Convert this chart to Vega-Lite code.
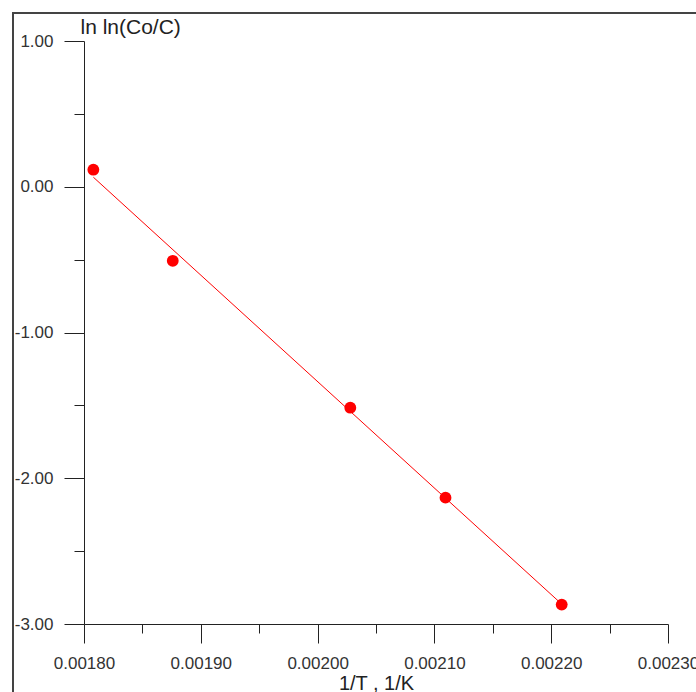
{
  "$schema": "https://vega.github.io/schema/vega-lite/v6.json",
  "autosize": "none",
  "width": 584,
  "height": 583,
  "padding": {"left": 84, "top": 41, "right": 28, "bottom": 68},
  "background": "white",
  "config": {
    "font": "Liberation Sans",
    "view": {"stroke": null}
  },
  "data": {
    "values": [
      {"x": 0.001808, "y": 0.117},
      {"x": 0.001876, "y": -0.508},
      {"x": 0.002028, "y": -1.516},
      {"x": 0.0021095, "y": -2.133},
      {"x": 0.002209, "y": -2.867}
    ]
  },
  "layer": [
    {
      "mark": {"type": "rect", "fill": null, "stroke": "#444", "strokeWidth": 1.5, "clip": false},
      "encoding": {
        "x": {"datum": 0.0017392, "type": "quantitative", "scale": {"domain": [0.0018, 0.0023], "nice": false, "zero": false}},
        "x2": {"datum": 0.00245},
        "y": {"datum": 1.192, "type": "quantitative", "scale": {"domain": [-3, 1], "nice": false, "zero": false}},
        "y2": {"datum": -3.6}
      }
    },
    {
      "transform": [{"regression": "y", "on": "x"}],
      "mark": {"type": "line", "color": "#ff0000", "strokeWidth": 1},
      "encoding": {
        "x": {"field": "x", "type": "quantitative"},
        "y": {"field": "y", "type": "quantitative"}
      }
    },
    {
      "mark": {"type": "point", "filled": true, "color": "#ff0000", "opacity": 1, "size": 140},
      "encoding": {
        "x": {
          "field": "x", "type": "quantitative",
          "scale": {"domain": [0.0018, 0.0023], "nice": false, "zero": false},
          "axis": {
            "title": "1/T , 1/K",
            "values": [0.0018, 0.00185, 0.0019, 0.00195, 0.002, 0.00205, 0.0021, 0.00215, 0.0022, 0.00225, 0.0023],
            "labelExpr": "abs(datum.value*10000 - round(datum.value*10000)) < 0.01 ? format(datum.value, '.5f') : ''",
            "tickSize": {"condition": {"test": "abs(datum.value*10000 - round(datum.value*10000)) < 0.01", "value": 19}, "value": 9},
            "labelPadding": 12,
            "labelFlush": false,
            "labelOverlap": false,
            "labelFontSize": 17,
            "labelColor": "#333",
            "tickColor": "#222",
            "domainColor": "#222",
            "grid": false,
            "titleFontSize": 20,
            "titleFontWeight": "normal",
            "titleColor": "#222",
            "titleBaseline": "alphabetic",
            "titleY": 65
          }
        },
        "y": {
          "field": "y", "type": "quantitative",
          "scale": {"domain": [-3, 1], "nice": false, "zero": false},
          "axis": {
            "title": "ln ln(Co/C)",
            "values": [-3, -2.5, -2, -1.5, -1, -0.5, 0, 0.5, 1],
            "labelExpr": "datum.value % 1 == 0 ? replace(format(datum.value, '.2f'), '\u2212', '-') : ''",
            "tickSize": {"condition": {"test": "datum.value % 1 == 0", "value": 20}, "value": 10},
            "labelPadding": 11,
            "labelOverlap": false,
            "labelFontSize": 17,
            "labelColor": "#333",
            "tickColor": "#222",
            "domainColor": "#222",
            "grid": false,
            "titleAngle": 0,
            "titleAlign": "left",
            "titleBaseline": "alphabetic",
            "titleX": -4,
            "titleY": -8,
            "titleFontSize": 21,
            "titleFontWeight": "normal",
            "titleColor": "#222"
          }
        }
      }
    }
  ]
}
